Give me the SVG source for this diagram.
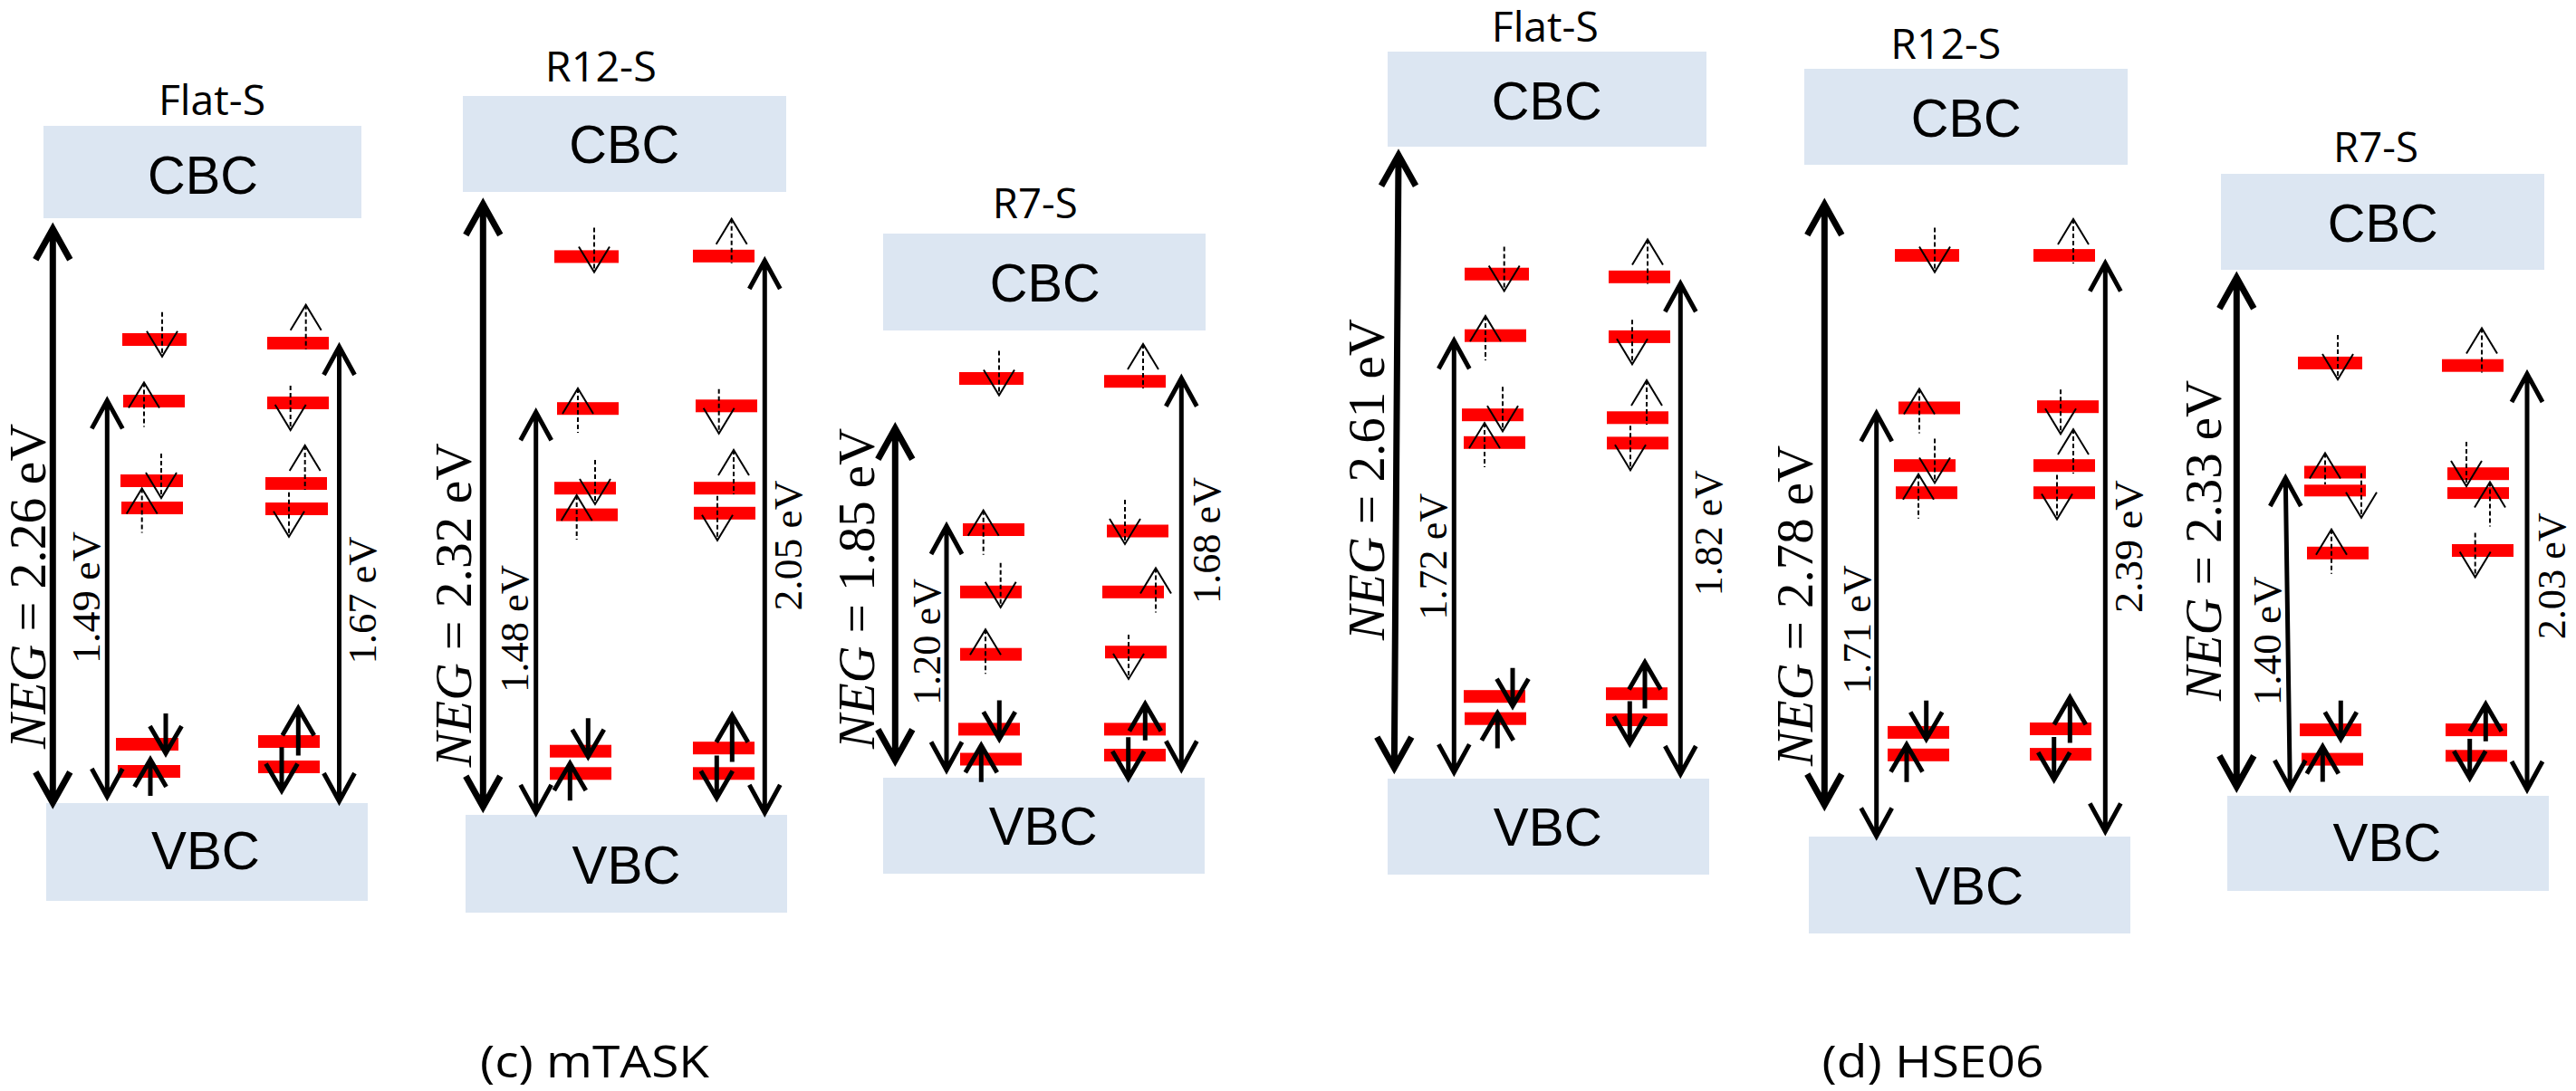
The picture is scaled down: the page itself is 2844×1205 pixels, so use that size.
<svg xmlns="http://www.w3.org/2000/svg" width="2844" height="1205" viewBox="0 0 2844 1205">
<style>
.bg{fill:#FFFFFF}
.band{fill:#DCE6F2}
.lvl{fill:#FF0000}
.bt{font-family:"Liberation Sans",Arial,sans-serif;font-size:60px;text-anchor:middle;fill:#000}
.ttl{font-family:"Open Sans","Liberation Sans",sans-serif;font-size:46px;text-anchor:middle;fill:#000}
.cap{font-family:"Open Sans","Liberation Sans",sans-serif;font-size:50px;text-anchor:middle;fill:#000}
.neg{font-family:"Liberation Serif","Times New Roman",serif;font-size:57px;text-anchor:middle;fill:#000}
.lbl{font-family:"Liberation Serif","Times New Roman",serif;font-size:44px;text-anchor:middle;fill:#000}
.dash{stroke:#000;stroke-width:2;stroke-dasharray:5 3;fill:none}
.chev{stroke:#000;stroke-width:2;fill:none}
.solid{stroke:#000;stroke-width:5;fill:none;stroke-linejoin:miter}
.gap{stroke:#000;stroke-width:5;fill:none;stroke-linejoin:miter}
.gapT{stroke:#000;stroke-width:7;fill:none;stroke-linejoin:miter}
</style>
<defs>
<g id="od"><line class="dash" x1="0" y1="-49" x2="0" y2="0"/><polyline class="chev" points="-17,-28 0,0 17,-28"/></g>
<g id="ou"><line class="dash" x1="0" y1="0" x2="0" y2="49"/><polyline class="chev" points="-17,28 0,0 17,28"/></g>
</defs>
<rect class="bg" x="0" y="0" width="2844" height="1205"/>

<!-- Panel (c) mTASK Flat-S -->
<g id="c-flat">
<text class="ttl" x="234" y="126.5" textLength="118" lengthAdjust="spacingAndGlyphs">Flat-S</text>
<g id="c-flat-cbc"><rect class="band" x="48" y="139" width="351" height="102"/><text class="bt" x="224" y="213.5" textLength="122" lengthAdjust="spacingAndGlyphs">CBC</text></g>
<g id="c-flat-vbc"><rect class="band" x="51" y="887" width="355" height="108"/><text class="bt" x="227" y="960" textLength="120" lengthAdjust="spacingAndGlyphs">VBC</text></g>
<g id="c-flat-levels">
<rect class="lvl" x="135" y="368" width="71" height="14"/><rect class="lvl" x="136" y="436" width="68" height="14"/>
<rect class="lvl" x="133" y="524" width="69" height="14"/><rect class="lvl" x="134" y="554" width="68" height="14"/>
<rect class="lvl" x="128" y="815" width="69" height="14"/><rect class="lvl" x="130" y="845" width="69" height="14"/>
<rect class="lvl" x="295" y="372" width="68" height="14"/><rect class="lvl" x="295" y="438" width="68" height="14"/>
<rect class="lvl" x="293" y="527" width="68" height="14"/><rect class="lvl" x="293" y="555" width="69" height="14"/>
<rect class="lvl" x="285" y="812" width="68" height="14"/><rect class="lvl" x="285" y="840" width="68" height="14"/>
</g>
<g id="c-flat-spins">
<use href="#od" x="179" y="393.7"/><use href="#ou" x="159" y="422.5"/><use href="#od" x="178" y="550"/><use href="#ou" x="156.7" y="539.4"/>
<use href="#ou" x="337.7" y="336.7"/><use href="#od" x="320.7" y="475"/><use href="#ou" x="336.7" y="492"/><use href="#od" x="319" y="592.7"/>
<path class="solid" d="M183,788V832M165.5,802L183,832L200.5,802"/>
<path class="solid" d="M166,879V839M148.5,869L166,839L183.5,869"/>
<path class="solid" d="M329.3,834.5V782.2M311.8,812.2L329.3,782.2L346.8,812.2"/>
<path class="solid" d="M311,825.3V873.4M293.5,843.4L311,873.4L328.5,843.4"/>
</g>
</g>

<!-- Panel (c) mTASK R12-S -->
<g id="c-r12">
<text class="ttl" x="663.3" y="90.4" textLength="123" lengthAdjust="spacingAndGlyphs">R12-S</text>
<g id="c-r12-cbc"><rect class="band" x="511" y="106" width="357" height="106"/><text class="bt" x="689.3" y="180.2" textLength="122" lengthAdjust="spacingAndGlyphs">CBC</text></g>
<g id="c-r12-vbc"><rect class="band" x="514" y="900" width="355" height="108"/><text class="bt" x="691.5" y="975.5" textLength="120" lengthAdjust="spacingAndGlyphs">VBC</text></g>
<g id="c-r12-levels">
<rect class="lvl" x="612" y="276.4" width="71" height="14"/><rect class="lvl" x="615" y="444.2" width="68" height="14"/>
<rect class="lvl" x="612" y="532.2" width="68" height="14"/><rect class="lvl" x="614" y="561.6" width="68" height="14"/>
<rect class="lvl" x="607" y="822.7" width="68" height="14"/><rect class="lvl" x="607" y="847.3" width="68" height="14"/>
<rect class="lvl" x="765" y="275.8" width="68" height="14"/><rect class="lvl" x="768" y="441.3" width="68" height="14"/>
<rect class="lvl" x="766" y="532.2" width="68" height="14"/><rect class="lvl" x="766" y="559.8" width="68" height="14"/>
<rect class="lvl" x="765" y="819.2" width="68" height="14"/><rect class="lvl" x="765" y="847.3" width="68" height="14"/>
</g>
<g id="c-r12-spins">
<use href="#od" x="656" y="300.5"/><use href="#ou" x="638" y="429"/><use href="#od" x="657" y="556.9"/><use href="#ou" x="636.7" y="547"/>
<use href="#ou" x="807.7" y="241.8"/><use href="#od" x="793.7" y="478.8"/><use href="#ou" x="810" y="497"/><use href="#od" x="792" y="596.8"/>
<path class="solid" d="M649.3,793.3V835.7M631.8,805.7L649.3,835.7L666.8,805.7"/>
<path class="solid" d="M629.3,884.3V843.1M611.8,873.1L629.3,843.1L646.8,873.1"/>
<path class="solid" d="M808.3,841.5V789.7M790.8,819.7L808.3,789.7L825.8,819.7"/>
<path class="solid" d="M791.3,834.4V881.5M773.8,851.5L791.3,881.5L808.8,851.5"/>
</g>
</g>

<!-- Panel (c) mTASK R7-S -->
<g id="c-r7">
<text class="ttl" x="1142.8" y="241" textLength="94" lengthAdjust="spacingAndGlyphs">R7-S</text>
<g id="c-r7-cbc"><rect class="band" x="975" y="258" width="356" height="107"/><text class="bt" x="1153.7" y="333" textLength="122" lengthAdjust="spacingAndGlyphs">CBC</text></g>
<g id="c-r7-vbc"><rect class="band" x="975" y="859" width="355" height="106"/><text class="bt" x="1151.7" y="932.5" textLength="120" lengthAdjust="spacingAndGlyphs">VBC</text></g>
<g id="c-r7-levels">
<rect class="lvl" x="1059" y="411" width="71" height="14"/><rect class="lvl" x="1063" y="578" width="68" height="14"/>
<rect class="lvl" x="1060" y="646.8" width="68" height="14"/><rect class="lvl" x="1060" y="715.7" width="68" height="14"/>
<rect class="lvl" x="1058" y="798.4" width="68" height="14"/><rect class="lvl" x="1060" y="831.5" width="68" height="14"/>
<rect class="lvl" x="1219" y="414.2" width="68" height="14"/><rect class="lvl" x="1222" y="579.5" width="68" height="14"/>
<rect class="lvl" x="1217" y="646.8" width="68" height="14"/><rect class="lvl" x="1220" y="713.2" width="68" height="14"/>
<rect class="lvl" x="1219" y="798.4" width="68" height="14"/><rect class="lvl" x="1219" y="827" width="68" height="14"/>
</g>
<g id="c-r7-spins">
<use href="#od" x="1103" y="436.6"/><use href="#ou" x="1085.7" y="563.7"/><use href="#od" x="1104.7" y="670.8"/><use href="#ou" x="1088" y="695.3"/>
<use href="#ou" x="1262" y="380"/><use href="#od" x="1242" y="600.9"/><use href="#ou" x="1276" y="627.4"/><use href="#od" x="1246" y="749.9"/>
<path class="solid" d="M1103.3,773.4V816.3M1085.8,786.3L1103.3,816.3L1120.8,786.3"/>
<path class="solid" d="M1083.3,863.7V823.3M1065.8,853.3L1083.3,823.3L1100.8,853.3"/>
<path class="solid" d="M1264.3,817.8V777.4M1246.8,807.4L1264.3,777.4L1281.8,807.4"/>
<path class="solid" d="M1245.7,814.2V859.7M1228.2,829.7L1245.7,859.7L1263.2,829.7"/>
</g>
</g>

<!-- Panel (d) HSE06 Flat-S -->
<g id="d-flat">
<text class="ttl" x="1705.8" y="46" textLength="118" lengthAdjust="spacingAndGlyphs">Flat-S</text>
<g id="d-flat-cbc"><rect class="band" x="1532" y="57" width="352" height="105"/><text class="bt" x="1707.8" y="131.6" textLength="122" lengthAdjust="spacingAndGlyphs">CBC</text></g>
<g id="d-flat-vbc"><rect class="band" x="1532" y="860" width="355" height="106"/><text class="bt" x="1708.8" y="933.7" textLength="120" lengthAdjust="spacingAndGlyphs">VBC</text></g>
<g id="d-flat-levels">
<rect class="lvl" x="1617" y="295.7" width="71" height="14"/><rect class="lvl" x="1617" y="363.7" width="68" height="14"/>
<rect class="lvl" x="1614" y="451.2" width="68" height="14"/><rect class="lvl" x="1616" y="481.8" width="68" height="14"/>
<rect class="lvl" x="1616" y="762.2" width="68" height="14"/><rect class="lvl" x="1617" y="786.7" width="68" height="14"/>
<rect class="lvl" x="1776" y="298.8" width="68" height="14"/><rect class="lvl" x="1776" y="364.9" width="68" height="14"/>
<rect class="lvl" x="1774" y="454.3" width="68" height="14"/><rect class="lvl" x="1774" y="482.4" width="68" height="14"/>
<rect class="lvl" x="1773" y="759.2" width="68" height="14"/><rect class="lvl" x="1773" y="788" width="68" height="14"/>
</g>
<g id="d-flat-spins">
<use href="#od" x="1660.7" y="321.4"/><use href="#ou" x="1640" y="349"/><use href="#od" x="1659" y="476.3"/><use href="#ou" x="1639" y="467.1"/>
<use href="#ou" x="1819" y="264.5"/><use href="#od" x="1802" y="402.2"/><use href="#ou" x="1818" y="420"/><use href="#od" x="1800" y="519.2"/>
<path class="solid" d="M1670,737.8V779.7M1652.5,749.7L1670,779.7L1687.5,749.7"/>
<path class="solid" d="M1653.3,826.5V787.7M1635.8,817.7L1653.3,787.7L1670.8,817.7"/>
<path class="solid" d="M1816,782.4V731.4M1798.5,761.4L1816,731.4L1833.5,761.4"/>
<path class="solid" d="M1799.3,774.5V821.3M1781.8,791.3L1799.3,821.3L1816.8,791.3"/>
</g>
</g>

<!-- Panel (d) HSE06 R12-S -->
<g id="d-r12">
<text class="ttl" x="2148.3" y="64.6" textLength="122" lengthAdjust="spacingAndGlyphs">R12-S</text>
<g id="d-r12-cbc"><rect class="band" x="1992" y="76" width="357" height="106"/><text class="bt" x="2170.8" y="150.7" textLength="122" lengthAdjust="spacingAndGlyphs">CBC</text></g>
<g id="d-r12-vbc"><rect class="band" x="1997" y="924" width="355" height="107"/><text class="bt" x="2174.2" y="999" textLength="120" lengthAdjust="spacingAndGlyphs">VBC</text></g>
<g id="d-r12-levels">
<rect class="lvl" x="2092" y="275.1" width="71" height="14"/><rect class="lvl" x="2096" y="443.5" width="68" height="14"/>
<rect class="lvl" x="2091" y="507.2" width="68" height="14"/><rect class="lvl" x="2093" y="537.2" width="68" height="14"/>
<rect class="lvl" x="2084" y="801.9" width="68" height="14"/><rect class="lvl" x="2084" y="826.8" width="68" height="14"/>
<rect class="lvl" x="2245" y="275.1" width="68" height="14"/><rect class="lvl" x="2249" y="442.2" width="68" height="14"/>
<rect class="lvl" x="2245" y="507.2" width="68" height="14"/><rect class="lvl" x="2245" y="537.2" width="68" height="14"/>
<rect class="lvl" x="2241" y="798" width="68" height="14"/><rect class="lvl" x="2241" y="826.1" width="68" height="14"/>
</g>
<g id="d-r12-spins">
<use href="#od" x="2136" y="300.6"/><use href="#ou" x="2119" y="429.4"/><use href="#od" x="2136" y="533.4"/><use href="#ou" x="2118" y="523.8"/>
<use href="#ou" x="2289" y="241.9"/><use href="#od" x="2275" y="479.2"/><use href="#ou" x="2289" y="474.1"/><use href="#od" x="2271" y="573.6"/>
<path class="solid" d="M2126.7,773.8V816.4M2109.2,786.4L2126.7,816.4L2144.2,786.4"/>
<path class="solid" d="M2105,863.8V822.5M2087.5,852.5L2105,822.5L2122.5,852.5"/>
<path class="solid" d="M2285.3,820.4V770.2M2267.8,800.2L2285.3,770.2L2302.8,800.2"/>
<path class="solid" d="M2267.7,814V861M2250.2,831L2267.7,861L2285.2,831"/>
</g>
</g>

<!-- Panel (d) HSE06 R7-S -->
<g id="d-r7">
<text class="ttl" x="2623" y="179" textLength="94" lengthAdjust="spacingAndGlyphs">R7-S</text>
<g id="d-r7-cbc"><rect class="band" x="2452" y="192" width="357" height="106"/><text class="bt" x="2630.8" y="267" textLength="122" lengthAdjust="spacingAndGlyphs">CBC</text></g>
<g id="d-r7-vbc"><rect class="band" x="2459" y="879" width="355" height="105"/><text class="bt" x="2635.5" y="950.6" textLength="120" lengthAdjust="spacingAndGlyphs">VBC</text></g>
<g id="d-r7-levels">
<rect class="lvl" x="2537" y="393.9" width="71" height="14"/><rect class="lvl" x="2544" y="514.5" width="68" height="14"/>
<rect class="lvl" x="2544" y="535.3" width="68" height="13"/><rect class="lvl" x="2547" y="603.8" width="68" height="14"/>
<rect class="lvl" x="2539" y="799.1" width="68" height="14"/><rect class="lvl" x="2541" y="831.6" width="68" height="14"/>
<rect class="lvl" x="2696" y="396.7" width="68" height="14"/><rect class="lvl" x="2702" y="516.2" width="68" height="14"/>
<rect class="lvl" x="2702" y="538.1" width="68" height="13"/><rect class="lvl" x="2707" y="601" width="68" height="14"/>
<rect class="lvl" x="2700" y="799.1" width="68" height="14"/><rect class="lvl" x="2700" y="828.3" width="68" height="13"/>
</g>
<g id="d-r7-spins">
<use href="#od" x="2581" y="419.1"/>
<line class="dash" x1="2567" y1="500.5" x2="2567" y2="535"/><polyline class="chev" points="2550,528.5 2567,500.5 2584,528.5"/>
<use href="#od" x="2607" y="571.8"/><use href="#ou" x="2574" y="584.7"/>
<use href="#ou" x="2740" y="362.5"/><use href="#od" x="2723" y="537"/><use href="#ou" x="2749" y="532.5"/><use href="#od" x="2732.7" y="637.5"/>
<path class="solid" d="M2584.3,773.8V816.4M2566.8,786.4L2584.3,816.4L2601.8,786.4"/>
<path class="solid" d="M2564.3,863.6V824.4M2546.8,854.4L2564.3,824.4L2581.8,854.4"/>
<path class="solid" d="M2744.3,818.7V777.8M2726.8,807.8L2744.3,777.8L2761.8,807.8"/>
<path class="solid" d="M2726.7,816V859.6M2709.2,829.6L2726.7,859.6L2744.2,829.6"/>
</g>
</g>

<!-- Gap arrows (connectors) with their labels -->
<g id="connectors">
<path class="gapT" d="M58.3,252.7V886.7M39.3,286.7L58.3,252.7L77.3,286.7M39.3,852.7L58.3,886.7L77.3,852.7"/>
<path class="gap" d="M118.3,442.4V880M101.3,473.4L118.3,442.4L135.3,473.4M101.3,849L118.3,880L135.3,849"/>
<path class="gap" d="M374.5,383V885M357.5,414L374.5,383L391.5,414M357.5,854L374.5,885L391.5,854"/>
<path class="gapT" d="M533.3,225.5V891.2M514.3,259.5L533.3,225.5L552.3,259.5M514.3,857.2L533.3,891.2L552.3,857.2"/>
<path class="gap" d="M591.7,455.3V897.9M574.7,486.3L591.7,455.3L608.7,486.3M574.7,866.9L591.7,897.9L608.7,866.9"/>
<path class="gap" d="M844.3,288V897.9M827.3,319L844.3,288L861.3,319M827.3,866.9L844.3,897.9L861.3,866.9"/>
<path class="gapT" d="M988.3,473.2V839.8M969.3,507.2L988.3,473.2L1007.3,507.2M969.3,805.8L988.3,839.8L1007.3,805.8"/>
<path class="gap" d="M1045,581V850.5M1028,612L1045,581L1062,612M1028,819.5L1045,850.5L1062,819.5"/>
<path class="gap" d="M1304.3,417.7V849.5M1287.3,448.7L1304.3,417.7L1321.3,448.7M1287.3,818.5L1304.3,849.5L1321.3,818.5"/>
<path class="gapT" d="M1544,171.3L1539.3,848.1M1525,205.3L1544,171.3L1563,205.3M1520.3,814.1L1539.3,848.1L1558.3,814.1"/>
<path class="gap" d="M1605.3,376.2V853.1M1588.3,407.2L1605.3,376.2L1622.3,407.2M1588.3,822.1L1605.3,853.1L1622.3,822.1"/>
<path class="gap" d="M1855.3,313.2V855M1838.3,344.2L1855.3,313.2L1872.3,344.2M1838.3,824L1855.3,855L1872.3,824"/>
<path class="gapT" d="M2014.3,225.6V889M1995.3,259.6L2014.3,225.6L2033.3,259.6M1995.3,855L2014.3,889L2033.3,855"/>
<path class="gap" d="M2071.7,456.4V923.5M2054.7,487.4L2071.7,456.4L2088.7,487.4M2054.7,892.5L2071.7,923.5L2088.7,892.5"/>
<path class="gap" d="M2324.3,290.6V918.4M2307.3,321.6L2324.3,290.6L2341.3,321.6M2307.3,887.4L2324.3,918.4L2341.3,887.4"/>
<path class="gapT" d="M2469.3,306.7V868.8M2450.3,340.7L2469.3,306.7L2488.3,340.7M2450.3,834.8L2469.3,868.8L2488.3,834.8"/>
<path class="gap" d="M2523.3,528L2528.3,870.8M2506.3,559L2523.3,528L2540.3,559M2511.3,839.8L2528.3,870.8L2545.3,839.8"/>
<path class="gap" d="M2790,413V872M2773,444L2790,413L2807,444M2773,841L2790,872L2807,841"/>

<text class="neg" transform="translate(50,647.5) rotate(-90)" textLength="359" lengthAdjust="spacingAndGlyphs"><tspan font-style="italic">NEG</tspan> = 2.26 eV</text>
<text class="lbl" transform="translate(110,660) rotate(-90)" textLength="146" lengthAdjust="spacingAndGlyphs">1.49 eV</text>
<text class="lbl" transform="translate(415,663) rotate(-90)" textLength="141" lengthAdjust="spacingAndGlyphs">1.67 eV</text>
<text class="neg" transform="translate(520,668.3) rotate(-90)" textLength="358" lengthAdjust="spacingAndGlyphs"><tspan font-style="italic">NEG</tspan> = 2.32 eV</text>
<text class="lbl" transform="translate(583.3,694.5) rotate(-90)" textLength="141" lengthAdjust="spacingAndGlyphs">1.48 eV</text>
<text class="lbl" transform="translate(885,602.4) rotate(-90)" textLength="144" lengthAdjust="spacingAndGlyphs">2.05 eV</text>
<text class="neg" transform="translate(965,650) rotate(-90)" textLength="354" lengthAdjust="spacingAndGlyphs"><tspan font-style="italic">NEG</tspan> = 1.85 eV</text>
<text class="lbl" transform="translate(1038,709) rotate(-90)" textLength="140" lengthAdjust="spacingAndGlyphs">1.20 eV</text>
<text class="lbl" transform="translate(1347,597) rotate(-90)" textLength="140" lengthAdjust="spacingAndGlyphs">1.68 eV</text>
<text class="neg" transform="translate(1528,529.6) rotate(-90)" textLength="355" lengthAdjust="spacingAndGlyphs"><tspan font-style="italic">NEG</tspan> = 2.61 eV</text>
<text class="lbl" transform="translate(1597,614.7) rotate(-90)" textLength="140" lengthAdjust="spacingAndGlyphs">1.72 eV</text>
<text class="lbl" transform="translate(1901,588.7) rotate(-90)" textLength="139" lengthAdjust="spacingAndGlyphs">1.82 eV</text>
<text class="neg" transform="translate(2001,669) rotate(-90)" textLength="354" lengthAdjust="spacingAndGlyphs"><tspan font-style="italic">NEG</tspan> = 2.78 eV</text>
<text class="lbl" transform="translate(2065,695.4) rotate(-90)" textLength="142" lengthAdjust="spacingAndGlyphs">1.71 eV</text>
<text class="lbl" transform="translate(2365,603.6) rotate(-90)" textLength="147" lengthAdjust="spacingAndGlyphs">2.39 eV</text>
<text class="neg" transform="translate(2452,597) rotate(-90)" textLength="354" lengthAdjust="spacingAndGlyphs"><tspan font-style="italic">NEG</tspan> = 2.33 eV</text>
<text class="lbl" transform="translate(2518,707.8) rotate(-90)" textLength="143" lengthAdjust="spacingAndGlyphs">1.40 eV</text>
<text class="lbl" transform="translate(2832,636.3) rotate(-90)" textLength="140" lengthAdjust="spacingAndGlyphs">2.03 eV</text>
</g>

<g id="captions">
<text class="cap" x="656.5" y="1190" textLength="253" lengthAdjust="spacingAndGlyphs">(c) mTASK</text>
<text class="cap" x="2134" y="1190" textLength="245" lengthAdjust="spacingAndGlyphs">(d) HSE06</text>
</g>
</svg>
